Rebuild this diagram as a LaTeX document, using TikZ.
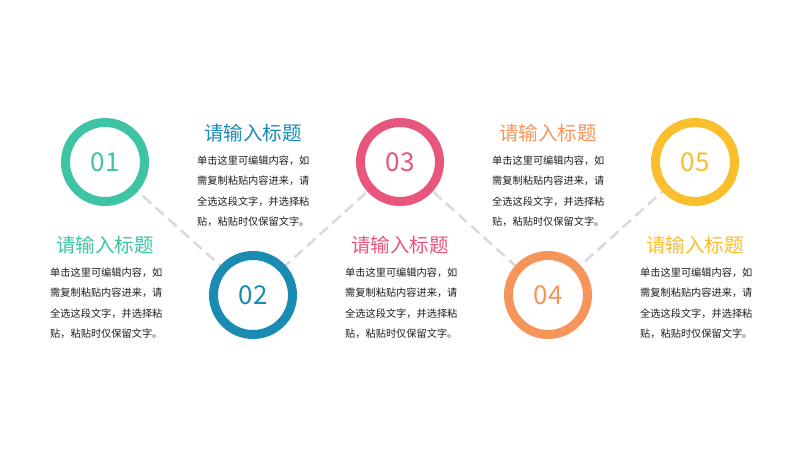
\documentclass[tikz,border=0pt]{standalone}
\usepackage{fontspec}
\setmainfont{Noto Sans CJK SC}
\newfontfamily\cjk{Noto Sans CJK SC}
\definecolor{cA}{HTML}{3EC4A5}
\definecolor{cB}{HTML}{1A8BB3}
\definecolor{cC}{HTML}{E8557D}
\definecolor{cD}{HTML}{F6955A}
\definecolor{cE}{HTML}{FBBE2C}
\definecolor{dashgray}{HTML}{DADADA}
\definecolor{bodytext}{HTML}{1E1E1E}
\tikzset{
  ring/.style={circle, draw=#1, line width=9pt, fill=white, minimum size=79pt, inner sep=0pt,
     text=#1, font=\cjk\fontsize{26}{26}\selectfont},
  title/.style={text=#1, font=\cjk\fontsize{19.5}{20}\selectfont, inner sep=0pt},
  body/.style={text=bodytext, font=\cjk\fontsize{10.2}{20.4}\selectfont, align=left, inner sep=0pt, anchor=north west},
  link/.style={draw=dashgray, line width=2.5pt, dash pattern=on 11pt off 6pt}
}
\begin{document}
\begin{tikzpicture}[x=1pt,y=-1pt]
\useasboundingbox[fill=white] (0,0) rectangle (800,450);
\coordinate (c1) at (105,162);
\coordinate (c2) at (253,295);
\coordinate (c3) at (400,162);
\coordinate (c4) at (548,295);
\coordinate (c5) at (695,162);
\draw[link] (c1) -- (c2) -- (c3) -- (c4) -- (c5);
\node[ring=cA] (n1) at (c1) {01};
\node[ring=cB] (n2) at (c2) {02};
\node[ring=cC] (n3) at (c3) {03};
\node[ring=cD] (n4) at (c4) {04};
\node[ring=cE] (n5) at (c5) {05};
\node[title=cA] (t1) at (105,245) {请输入标题};
\node[title=cB] (t2) at (253,133) {请输入标题};
\node[title=cC] (t3) at (400,245) {请输入标题};
\node[title=cD] (t4) at (548,133) {请输入标题};
\node[title=cE] (t5) at (695,245) {请输入标题};
\node[body] (b1) at (50,267.5) {单击这里可编辑内容，如\\需复制粘贴内容进来，请\\全选这段文字，并选择粘\\贴，粘贴时仅保留文字。};
\node[body] (b2) at (197,155.5) {单击这里可编辑内容，如\\需复制粘贴内容进来，请\\全选这段文字，并选择粘\\贴，粘贴时仅保留文字。};
\node[body] (b3) at (345,267.5) {单击这里可编辑内容，如\\需复制粘贴内容进来，请\\全选这段文字，并选择粘\\贴，粘贴时仅保留文字。};
\node[body] (b4) at (492,155.5) {单击这里可编辑内容，如\\需复制粘贴内容进来，请\\全选这段文字，并选择粘\\贴，粘贴时仅保留文字。};
\node[body] (b5) at (640,267.5) {单击这里可编辑内容，如\\需复制粘贴内容进来，请\\全选这段文字，并选择粘\\贴，粘贴时仅保留文字。};
\end{tikzpicture}
\end{document}
